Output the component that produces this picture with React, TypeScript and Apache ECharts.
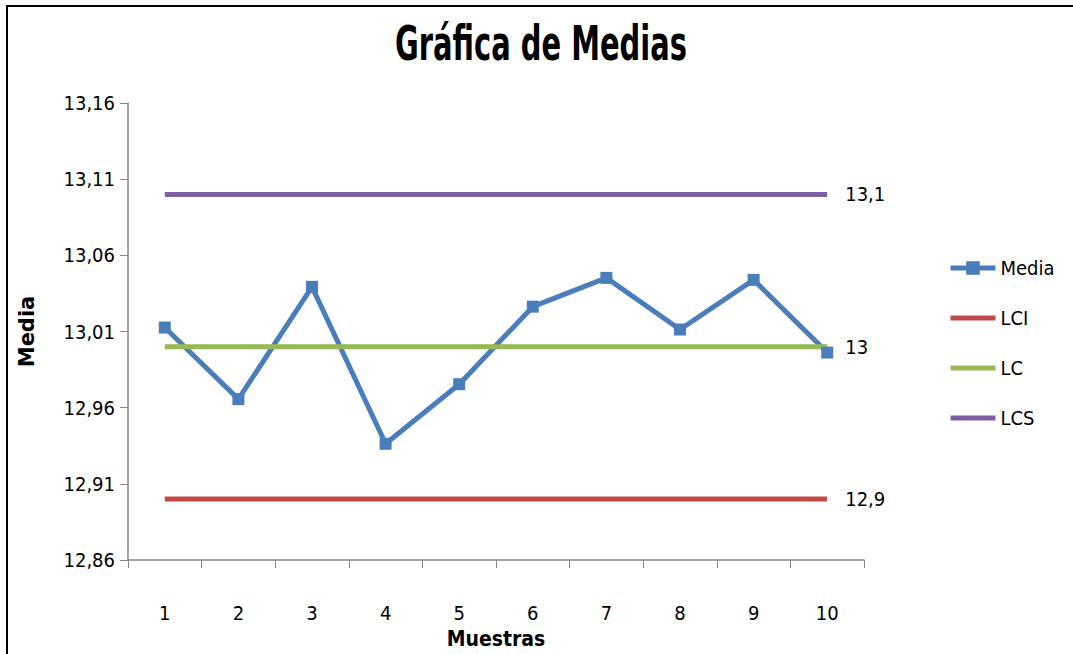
import React, { useEffect, useRef } from "react";
import * as echarts from "echarts";

const categories = ["1", "2", "3", "4", "5", "6", "7", "8", "9", "10"];
const media = [13.0126, 12.9656, 13.0393, 12.9363, 12.9754, 13.0263, 13.0452, 13.0113, 13.0439, 12.9962];
const lci = [12.9, 12.9, 12.9, 12.9, 12.9, 12.9, 12.9, 12.9, 12.9, 12.9];
const lc = [13.0, 13.0, 13.0, 13.0, 13.0, 13.0, 13.0, 13.0, 13.0, 13.0];
const lcs = [13.1, 13.1, 13.1, 13.1, 13.1, 13.1, 13.1, 13.1, 13.1, 13.1];
const yMin = 12.86;
const yMax = 13.16;
const yStep = 0.05;
const titleText = "Gráfica de Medias";

const FONT = "'DejaVu Sans Condensed', 'Liberation Sans', sans-serif";
const fmt = (v: number, d: number) => v.toFixed(d).replace(/0+$/, "").replace(/\.$/, "").replace(".", ",");
const LINE_ICON = "path://M0 0H45V5H0Z";

export default function App() {
  const ref = useRef<HTMLDivElement>(null);
  useEffect(() => {
    if (!ref.current) return;
    const chart = echarts.init(ref.current, null, { renderer: "svg" });
    const ctrl = (name: string, data: number[], color: string) => ({
      name,
      type: "line",
      data,
      symbol: "none",
      showSymbol: false,
      color,
      lineStyle: { width: 5, color },
      itemStyle: { color },
      endLabel: {
        show: true,
        distance: 18,
        formatter: (p: any) => fmt(p.value, 2),
        fontFamily: FONT,
        fontSize: 20,
        color: "#000",
      },
    });
    chart.setOption({
      animation: false,
      backgroundColor: "#fff",
      graphic: [
        {
          type: "rect",
          shape: { x: 7, y: 6, width: 1100, height: 700 },
          style: { fill: "none", stroke: "#000", lineWidth: 2 },
          silent: true,
        },
        {
          type: "text",
          x: 541,
          y: 44,
          scaleX: 0.67,
          style: {
            text: titleText,
            fontFamily: FONT,
            fontSize: 48,
            fontWeight: "bold",
            fill: "#000",
            align: "center",
            verticalAlign: "middle",
          },
          silent: true,
        },
      ],
      legend: {
        orient: "vertical",
        left: 948,
        top: 258,
        itemWidth: 45,
        itemHeight: 17,
        itemGap: 30,
        padding: 0,
        textStyle: { fontFamily: FONT, fontSize: 20, color: "#000" },
        data: [
          { name: "Media", lineStyle: { width: 5 } },
          { name: "LCI", icon: LINE_ICON },
          { name: "LC", icon: LINE_ICON },
          { name: "LCS", icon: LINE_ICON },
        ],
      },
      grid: { left: 128, top: 103, width: 736, height: 460 },
      xAxis: {
        type: "category",
        data: categories,
        boundaryGap: true,
        name: "Muestras",
        nameLocation: "middle",
        nameGap: 68,
        nameTextStyle: { fontFamily: FONT, fontSize: 21, fontWeight: "bold", color: "#000" },
        axisLine: { lineStyle: { color: "#868686", width: 1.5 } },
        axisTick: { show: true, length: 8, interval: 0, lineStyle: { color: "#868686" } },
        axisLabel: { margin: 43, fontFamily: FONT, fontSize: 20, color: "#000", interval: 0 },
        splitLine: { show: false },
      },
      yAxis: {
        type: "value",
        min: yMin,
        max: yMax,
        interval: yStep,
        name: "Media",
        nameLocation: "middle",
        nameGap: 91,
        nameTextStyle: { fontFamily: "'DejaVu Sans', sans-serif", fontSize: 21, fontWeight: "bold", color: "#000" },
        axisLine: { show: true, lineStyle: { color: "#868686", width: 1.5 } },
        axisTick: { show: true, length: 8, lineStyle: { color: "#868686" } },
        axisLabel: {
          margin: 13,
          fontFamily: FONT,
          fontSize: 20,
          color: "#000",
          formatter: (v: number) => v.toFixed(2).replace(".", ","),
        },
        splitLine: { show: false },
      },
      series: [
        {
          name: "Media",
          type: "line",
          data: media,
          symbol: "rect",
          symbolSize: 12,
          color: "#4A7EBB",
          lineStyle: { width: 5, color: "#4A7EBB" },
          itemStyle: { color: "#4A7EBB" },
        },
        ctrl("LCI", lci, "#BE4B48"),
        ctrl("LC", lc, "#98B954"),
        ctrl("LCS", lcs, "#7D60A0"),
      ],
    });
    return () => chart.dispose();
  }, []);
  return <div ref={ref} style={{ position: "fixed", left: 0, top: 0, width: 1073, height: 654 }} />;
}
